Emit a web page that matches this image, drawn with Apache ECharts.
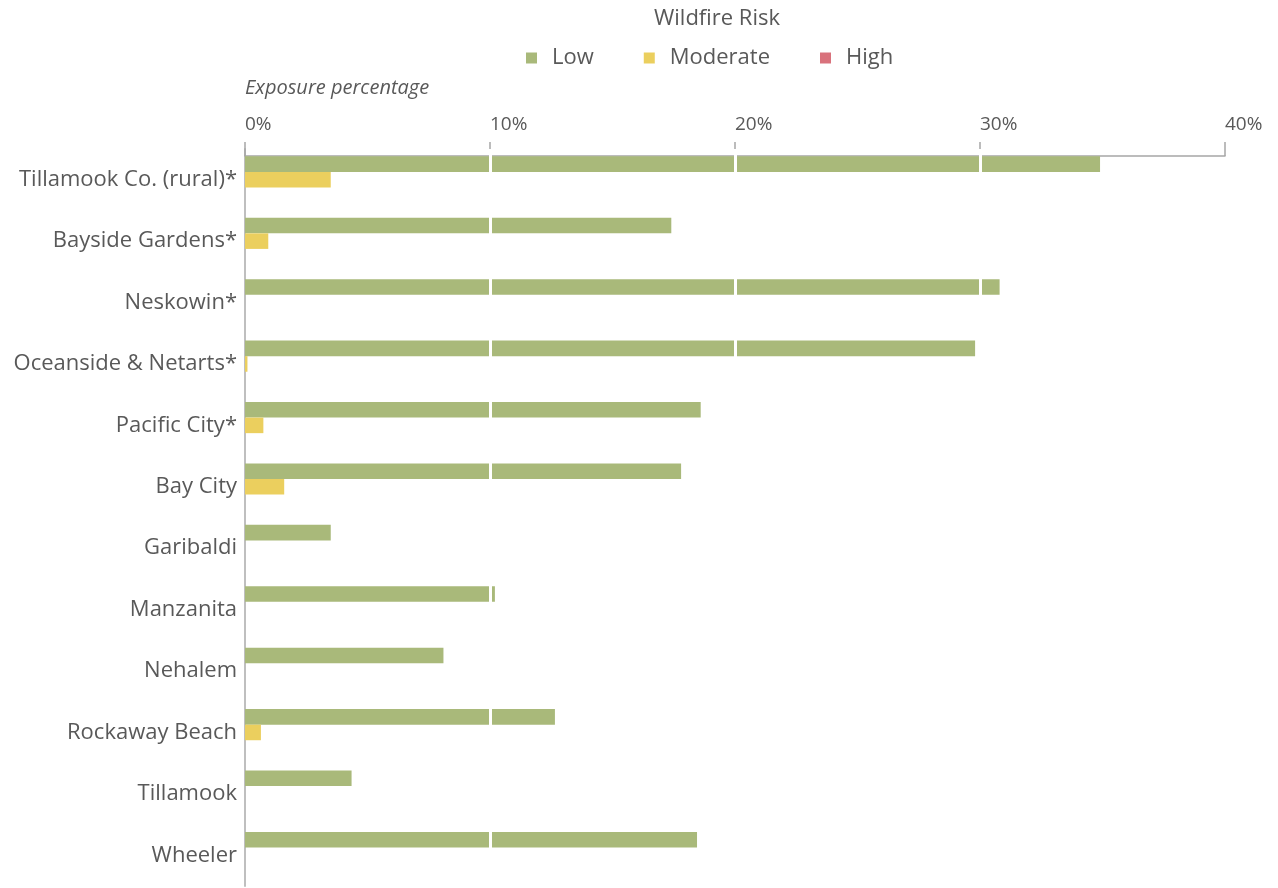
<!DOCTYPE html>
<html>
<head>
<meta charset="utf-8">
<script src="https://cdn.jsdelivr.net/npm/echarts@6/dist/echarts.min.js"></script>
<style>
  html, body { margin: 0; padding: 0; background: #fff; }
  #chart { width: 1278px; height: 888px; }
</style>
</head>
<body>
<div id="chart"></div>
<script>
const categories = [
  'Tillamook Co. (rural)*', 'Bayside Gardens*', 'Neskowin*', 'Oceanside & Netarts*',
  'Pacific City*', 'Bay City', 'Garibaldi', 'Manzanita', 'Nehalem',
  'Rockaway Beach', 'Tillamook', 'Wheeler'
]
const lowValues = [34.9, 17.4, 30.8, 29.8, 18.6, 17.8, 3.5, 10.2, 8.1, 12.65, 4.35, 18.45]
const moderateValues = [3.5, 0.95, 0, 0.1, 0.75, 1.6, 0, 0, 0, 0.65, 0, 0]
const highValues = [0, 0, 0, 0, 0, 0, 0, 0, 0, 0, 0, 0]
const gridTicks = [10, 20, 30]

const font = '"Open Sans", Lato, sans-serif'
const textColor = '#595959'

const chart = echarts.init(document.getElementById('chart'), null, { renderer: 'canvas' })

function barSeries(name, data, color) {
  return {
    name,
    type: 'bar',
    data,
    barGap: '0%',
    barCategoryGap: '24%',
    itemStyle: { color }
  }
}

const series = [
  barSeries('Low', lowValues, '#a9b97a'),
  barSeries('Moderate', moderateValues, '#ebcf5e'),
  barSeries('High', highValues, '#d9727c')
]
// white gridlines drawn over the bars, faint dotted below them
series[2].markLine = {
  silent: true,
  symbol: 'none',
  label: { show: false },
  lineStyle: { color: '#ffffff', width: 3, type: 'solid' },
  data: gridTicks.map((v) => ({ xAxis: v }))
}
series[2].z = 5
series[0].markLine = {
  silent: true,
  symbol: 'none',
  label: { show: false },
  z: 0,
  lineStyle: { color: '#f0f0f0', width: 1, type: 'dotted' },
  data: gridTicks.map((v) => ({ xAxis: v }))
}

chart.setOption({
  animation: false,
  textStyle: { fontFamily: font },
  title: {
    text: 'Wildfire Risk',
    left: 712,
    textAlign: 'center',
    top: 3,
    textStyle: { fontFamily: font, fontSize: 22, fontWeight: 'normal', color: textColor }
  },
  legend: {
    top: 42,
    left: 521,
    itemWidth: 11,
    itemHeight: 11,
    itemGap: 50,
    icon: 'rect',
    textStyle: { fontFamily: font, fontSize: 22, color: textColor, padding: [0, 0, 0, 10] },
    data: ['Low', 'Moderate', 'High']
  },
  graphic: [{
    type: 'text',
    left: 245,
    top: 78,
    style: { text: 'Exposure percentage', font: 'italic 20px ' + font, fill: textColor }
  }],
  grid: { left: 245, right: 53, top: 149, bottom: 2 },
  xAxis: {
    type: 'value',
    position: 'top',
    offset: -7,
    min: 0,
    max: 40,
    interval: 10,
    axisLine: { show: true, lineStyle: { color: '#a6a6a6', width: 1.5 } },
    axisTick: { show: true, length: 14, lineStyle: { color: '#a6a6a6', width: 1.5 } },
    axisLabel: {
      formatter: '{value}%',
      align: 'left',
      margin: 22,
      fontFamily: font,
      fontSize: 19,
      color: textColor
    },
    splitLine: { show: false }
  },
  yAxis: {
    type: 'category',
    data: categories,
    inverse: true,
    axisLine: { show: true, lineStyle: { color: '#bfbfbf', width: 2 } },
    axisTick: { show: false },
    axisLabel: { fontFamily: font, fontSize: 22, color: textColor, margin: 8 }
  },
  series
})
</script>
</body>
</html>
